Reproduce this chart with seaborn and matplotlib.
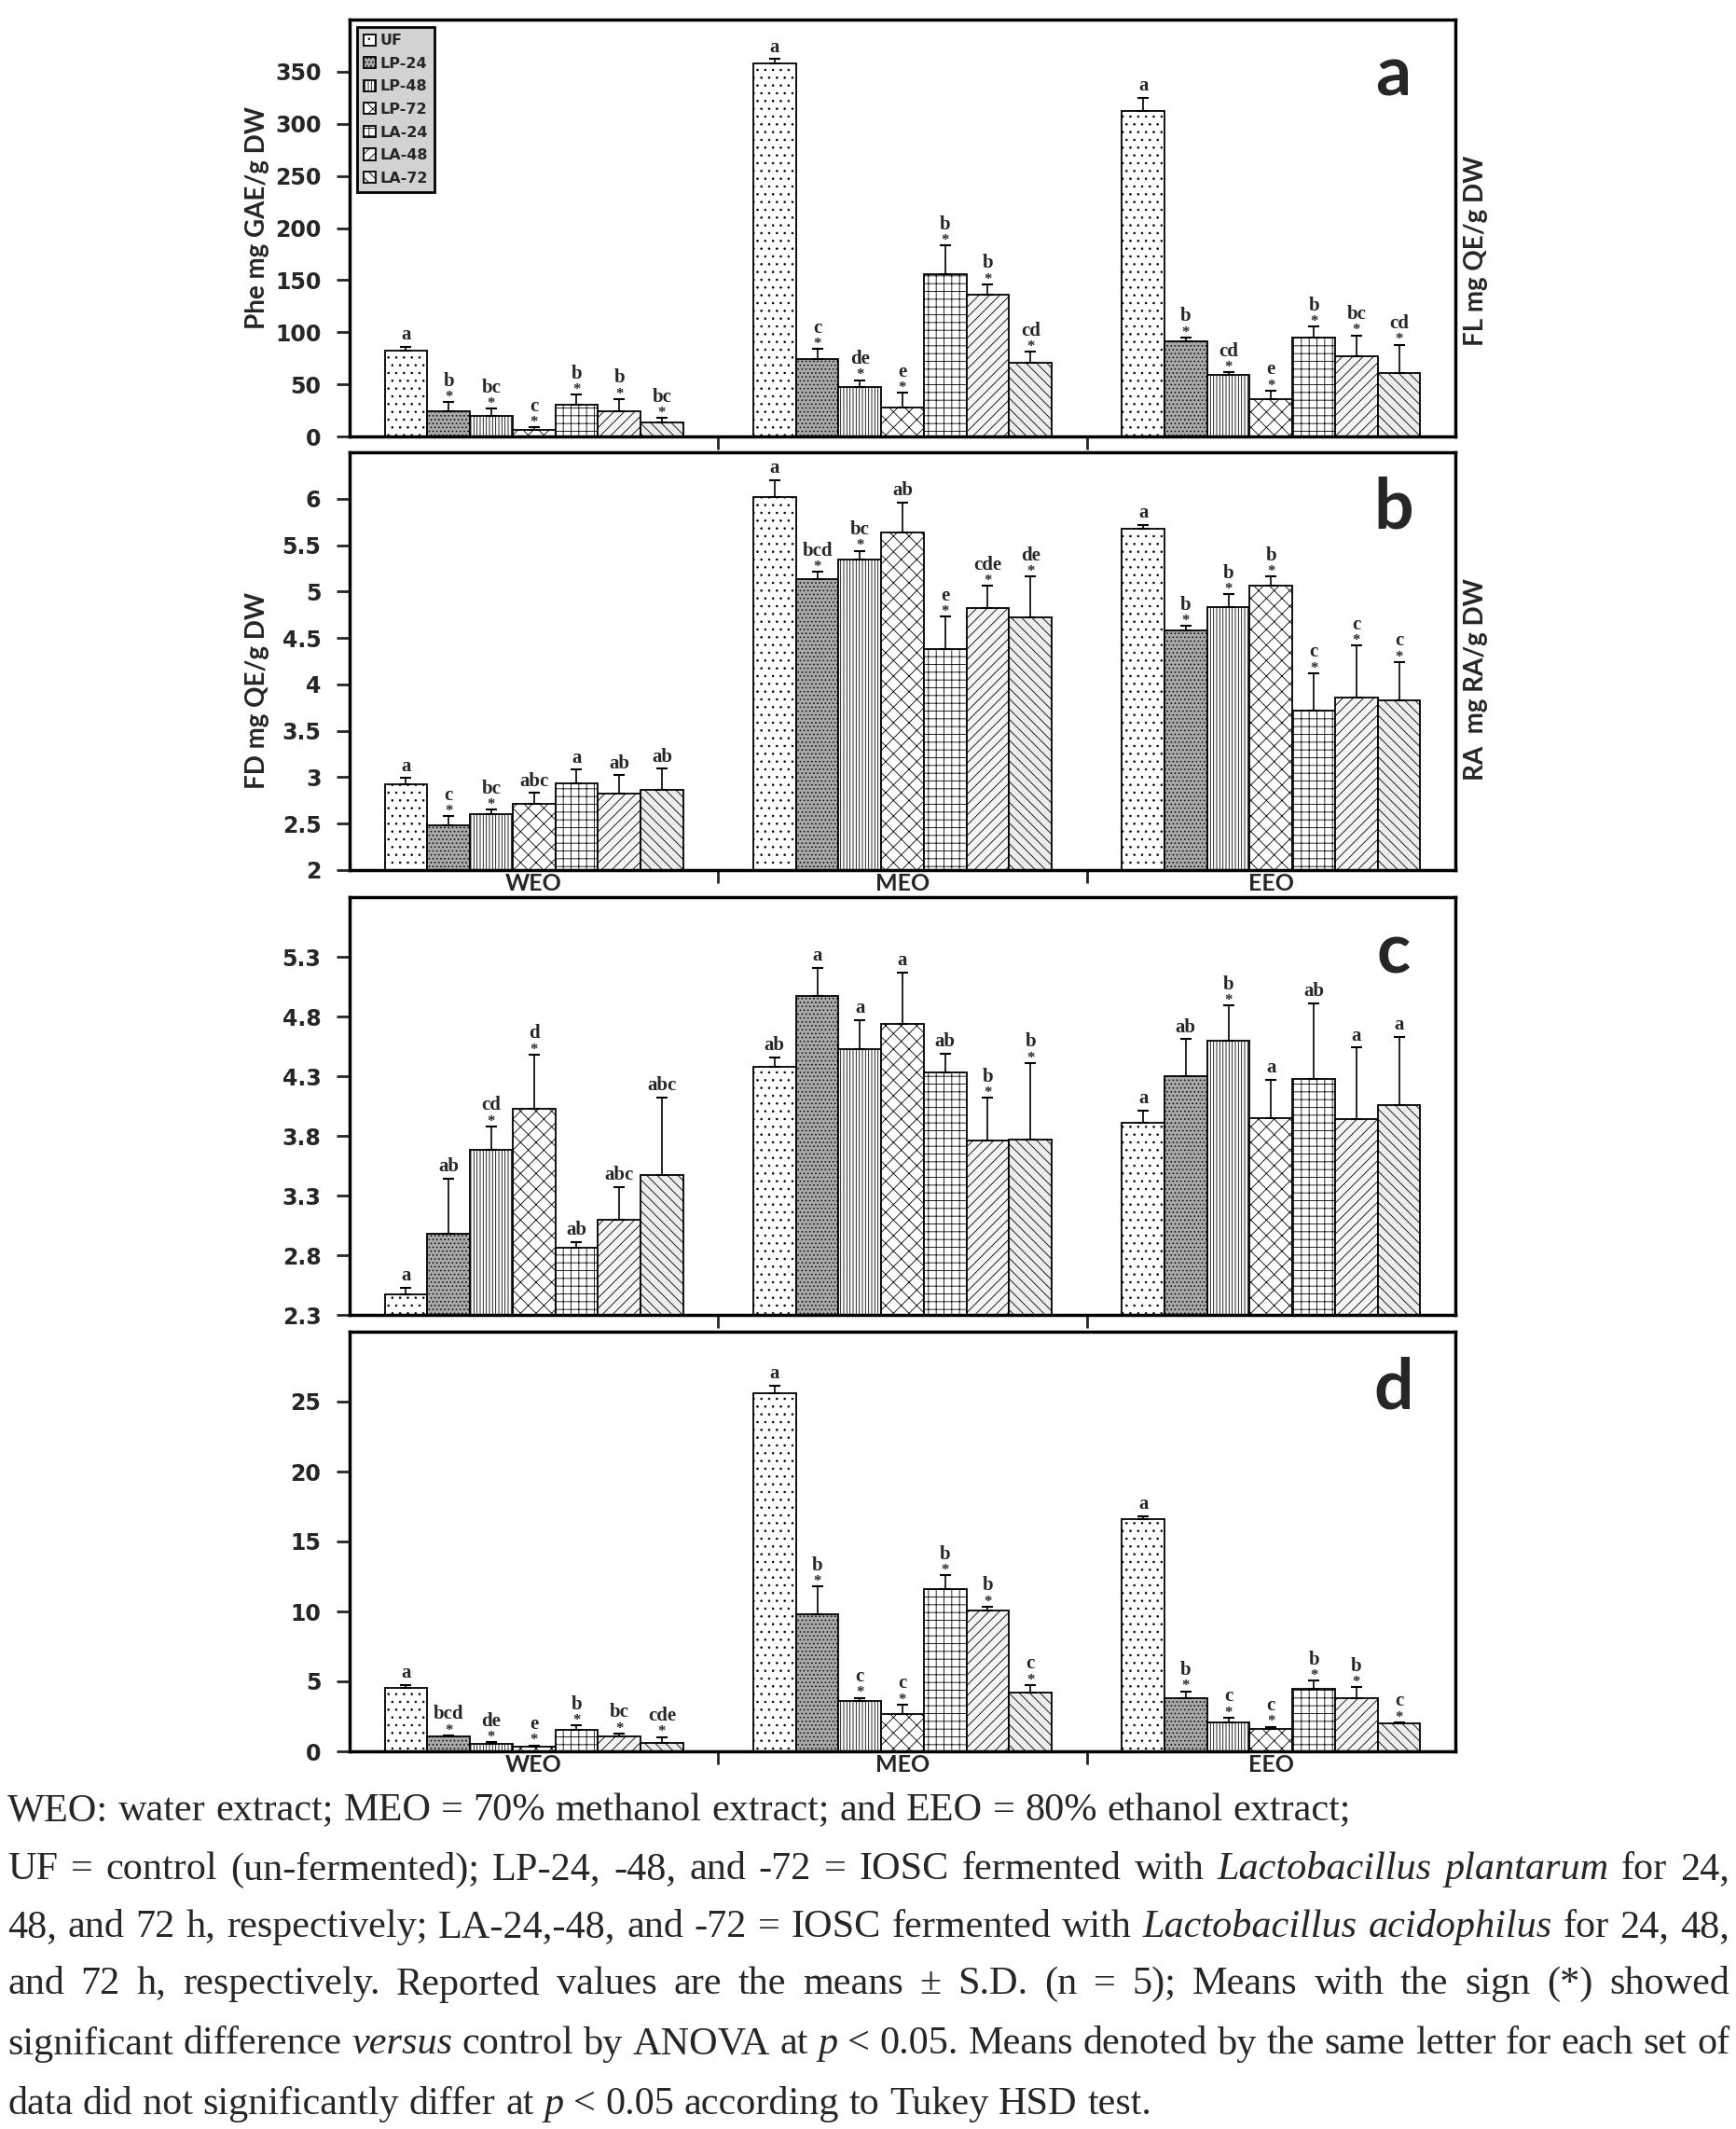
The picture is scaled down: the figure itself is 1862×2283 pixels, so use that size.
import matplotlib
matplotlib.use('Agg')
import matplotlib.pyplot as plt
import seaborn as sns
import pandas as pd
import numpy as np

groups = ['WEO', 'MEO', 'EEO']
treatments = ['UF', 'LP-24', 'LP-48', 'LP-72', 'LA-24', 'LA-48', 'LA-72']

# panel a: total phenolics (rows = WEO, MEO, EEO)
phe_mean = [[82.6, 24, 19.7, 6.3, 30.1, 24, 13.7],
            [358, 74, 47, 28, 156, 136, 71],
            [312, 91.5, 59, 36, 94.5, 77, 61]]
phe_sd = [[3.6, 9, 7, 2.4, 10, 12, 4],
          [4, 10, 7, 14, 27, 10, 10],
          [13, 3.5, 2.5, 8, 11, 20, 27]]
phe_letters = [['a', 'b*', 'bc*', 'c*', 'b*', 'b*', 'bc*'],
               ['a', 'c*', 'de*', 'e*', 'b*', 'b*', 'cd*'],
               ['a', 'b*', 'cd*', 'e*', 'b*', 'bc*', 'cd*']]

# panel b
fd_mean = [[2.92, 2.48, 2.60, 2.71, 2.93, 2.82, 2.86],
           [6.02, 5.13, 5.34, 5.64, 4.38, 4.82, 4.72],
           [5.68, 4.58, 4.83, 5.06, 3.72, 3.86, 3.83]]
fd_sd = [[0.07, 0.10, 0.05, 0.12, 0.15, 0.20, 0.23],
         [0.18, 0.08, 0.10, 0.32, 0.35, 0.24, 0.44],
         [0.04, 0.05, 0.14, 0.10, 0.40, 0.56, 0.41]]
fd_letters = [['a', 'c*', 'bc*', 'abc', 'a', 'ab', 'ab'],
              ['a', 'bcd*', 'bc*', 'ab', 'e*', 'cde*', 'de*'],
              ['a', 'b*', 'b*', 'b*', 'c*', 'c*', 'c*']]

# panel c
c_mean = [[2.47, 2.98, 3.68, 4.03, 2.86, 3.10, 3.47],
          [4.38, 4.97, 4.53, 4.74, 4.33, 3.76, 3.77],
          [3.91, 4.30, 4.60, 3.95, 4.28, 3.94, 4.06]]
c_sd = [[0.06, 0.46, 0.20, 0.45, 0.05, 0.27, 0.65],
        [0.08, 0.24, 0.24, 0.43, 0.16, 0.36, 0.64],
        [0.10, 0.31, 0.29, 0.32, 0.63, 0.60, 0.57]]
c_letters = [['a', 'ab', 'cd*', 'd*', 'ab', 'abc', 'abc'],
             ['ab', 'a', 'a', 'a', 'ab', 'b*', 'b*'],
             ['a', 'ab', 'b*', 'a', 'ab', 'a', 'a']]

# panel d
d_mean = [[4.53, 1.04, 0.53, 0.31, 1.53, 1.09, 0.62],
          [25.6, 9.8, 3.6, 2.7, 11.6, 10.05, 4.2],
          [16.6, 3.8, 2.1, 1.6, 4.5, 3.8, 2.0]]
d_sd = [[0.22, 0.11, 0.11, 0.11, 0.33, 0.18, 0.40],
        [0.55, 2.0, 0.22, 0.64, 1.0, 0.3, 0.55],
        [0.2, 0.5, 0.3, 0.16, 0.55, 0.8, 0.07]]
d_letters = [['a', 'bcd*', 'de*', 'e*', 'b*', 'bc*', 'cde*'],
             ['a', 'b*', 'c*', 'c*', 'b*', 'b*', 'c*'],
             ['a', 'b*', 'c*', 'c*', 'b*', 'b*', 'c*']]

fills = ['white', '#a8a8a8', 'white', 'white', 'white', '#f4f4f4', '#ececec']
hatches = ['..', '....', '|||||', 'xx', '++', '///', '\\\\\\']

sns.set_style('white')
plt.rcParams['font.family'] = ['DejaVu Sans']
plt.rcParams['hatch.linewidth'] = 0.6

W, H = 1862, 2283
fig = plt.figure(figsize=(W / 100, H / 100), dpi=100)
label_font = ['Lato', 'DejaVu Sans']


def add_axes(top, bottom):
    return fig.add_axes([375 / W, 1 - bottom / H, 1186 / W, (bottom - top) / H])


def panel(ax, mean, sd, letters, ylim, yticks, yticklabels, xlabels, tag):
    df = pd.DataFrame({'extract': np.repeat(groups, len(treatments)),
                       'treatment': treatments * len(groups),
                       'value': np.ravel(mean)})
    sns.barplot(data=df, x='extract', y='value', hue='treatment', order=groups,
                hue_order=treatments, width=0.81, errorbar=None, legend=False,
                saturation=1, ax=ax)
    bar_sets = list(ax.containers)
    for i, cont in enumerate(bar_sets):
        for j, bar in enumerate(cont.patches):
            bar.set_facecolor(fills[i])
            bar.set_hatch(hatches[i])
            bar.set_edgecolor('black')
            bar.set_linewidth(1.3)
            x = bar.get_x() + bar.get_width() / 2
            top = mean[j][i] + sd[j][i]
            ax.errorbar(x, mean[j][i], yerr=[[0], [sd[j][i]]], fmt='none',
                        ecolor='black', elinewidth=1.2, capsize=4, capthick=1.5)
            lab = letters[j][i]
            star = lab.endswith('*')
            if star:
                ax.annotate('*', (x, top), xytext=(0, -2), textcoords='offset points',
                            ha='center', va='bottom', fontsize=12,
                            family='Liberation Serif', fontweight='bold')
            ax.annotate(lab.rstrip('*'), (x, top), xytext=(0, 9 if star else 2),
                        textcoords='offset points', ha='center', va='bottom',
                        fontsize=15, family='Liberation Serif', fontweight='bold')
    ax.set_ylim(*ylim)
    ax.set_xlim(-0.5, 2.5)
    ax.set_yticks(yticks)
    ax.set_yticklabels(yticklabels, fontsize=17, fontweight='bold')
    ax.set_xticks([0, 1, 2])
    ax.set_xticks([0.5, 1.5], minor=True)
    if xlabels:
        ax.set_xticklabels(groups, fontsize=18, fontweight='bold', family=label_font)
    else:
        ax.set_xticklabels([])
    ax.tick_params(axis='x', which='major', length=0, pad=2)
    ax.tick_params(axis='x', which='minor', length=10, width=2, direction='out', bottom=True)
    ax.tick_params(axis='y', length=10, width=2, direction='out', left=True, pad=12)
    ax.set_xlabel('')
    ax.set_ylabel('')
    for s in ax.spines.values():
        s.set_visible(True)
        s.set_linewidth(2.5)
        s.set_color('black')
    ax.text(0.944, 0.865, tag, transform=ax.transAxes, ha='center', va='center',
            fontsize=54, fontweight='bold', family=label_font)
    return bar_sets


ax_a = add_axes(21, 468)
ax_b = add_axes(485, 933)
ax_c = add_axes(962, 1410)
ax_d = add_axes(1428, 1878)

bars_a = panel(ax_a, phe_mean, phe_sd, phe_letters, (0, 400), range(0, 351, 50),
               [str(v) for v in range(0, 351, 50)], False, 'a')
panel(ax_b, fd_mean, fd_sd, fd_letters, (2, 6.5), np.arange(2, 6.01, 0.5),
      ['2', '2.5', '3', '3.5', '4', '4.5', '5', '5.5', '6'], True, 'b')
panel(ax_c, c_mean, c_sd, c_letters, (2.3, 5.8), np.arange(2.3, 5.31, 0.5),
      ['2.3', '2.8', '3.3', '3.8', '4.3', '4.8', '5.3'], False, 'c')
panel(ax_d, d_mean, d_sd, d_letters, (0, 30), range(0, 26, 5),
      [str(v) for v in range(0, 26, 5)], True, 'd')

handles = [cont.patches[0] for cont in bars_a]
leg = ax_a.legend(handles, treatments, loc='upper left',
                  bbox_to_anchor=(8 / 1186, 1 - 8 / 447),
                  frameon=True, fancybox=False, facecolor='#d2d2d2', edgecolor='black',
                  framealpha=1, handlelength=0.8, handleheight=0.8, handletextpad=0.3,
                  labelspacing=0.6, borderpad=0.45, borderaxespad=0,
                  prop={'weight': 'bold', 'size': 11.5})
leg.get_frame().set_linewidth(2)

ylab = dict(rotation=90, ha='center', va='center', fontsize=20, fontweight='bold',
            family=label_font)
fig.text(276 / W, 1 - 234 / H, 'Phe mg GAE/g DW', **ylab)
fig.text(276 / W, 1 - 740 / H, 'FD mg QE/g DW', **ylab)
fig.text(1583 / W, 1 - 269 / H, 'FL mg QE/g DW', **ylab)
fig.text(1583 / W, 1 - 729 / H, 'RA  mg RA/g DW', **ylab)

# caption, justified line by line
cap_lines = [
    ([("WEO: water extract; MEO = 70% methanol extract; and EEO = 80% ethanol extract;", False)], False),
    ([("UF = control (un-fermented); LP-24, -48, and -72 = IOSC fermented with", False),
      ("Lactobacillus plantarum", True), ("for 24,", False)], True),
    ([("48, and 72 h, respectively; LA-24,-48, and -72 = IOSC fermented with", False),
      ("Lactobacillus acidophilus", True), ("for 24, 48,", False)], True),
    ([("and 72 h, respectively. Reported values are the means \u00b1 S.D. (n = 5); Means with the sign (*) showed", False)], True),
    ([("significant difference", False), ("versus", True), ("control by ANOVA at", False),
      ("p", True), ("< 0.05. Means denoted by the same letter for each set of", False)], True),
    ([("data did not significantly differ at", False), ("p", True),
      ("< 0.05 according to Tukey HSD test.", False)], False),
]
cap_y = [1942, 2005, 2067, 2128, 2192, 2257]
cap_x0, cap_x1 = 8, 1855

renderer = fig.canvas.get_renderer()


def text_width(s, italic, size):
    t = fig.text(0, 0, s, fontsize=size, family='Liberation Serif',
                 style='italic' if italic else 'normal')
    w = t.get_window_extent(renderer).width
    t.remove()
    return w


base = 20
line1 = cap_lines[0][0][0][0]
cap_size = base * 1440 / text_width(line1, False, base)
space_w = text_width('a a', False, cap_size) - text_width('aa', False, cap_size)

for (segs, justify), yc in zip(cap_lines, cap_y):
    words = [(w, it) for s, it in segs for w in s.split(' ')]
    widths = [text_width(w, it, cap_size) for w, it in words]
    if justify and len(words) > 1:
        gap = (cap_x1 - cap_x0 - sum(widths)) / (len(words) - 1)
    else:
        gap = space_w
    x = cap_x0
    for (w, it), wd in zip(words, widths):
        fig.text(x / W, 1 - yc / H, w, fontsize=cap_size, family='Liberation Serif',
                 style='italic' if it else 'normal', ha='left', va='center')
        x += wd + gap

fig.savefig('out.png', dpi=100)
